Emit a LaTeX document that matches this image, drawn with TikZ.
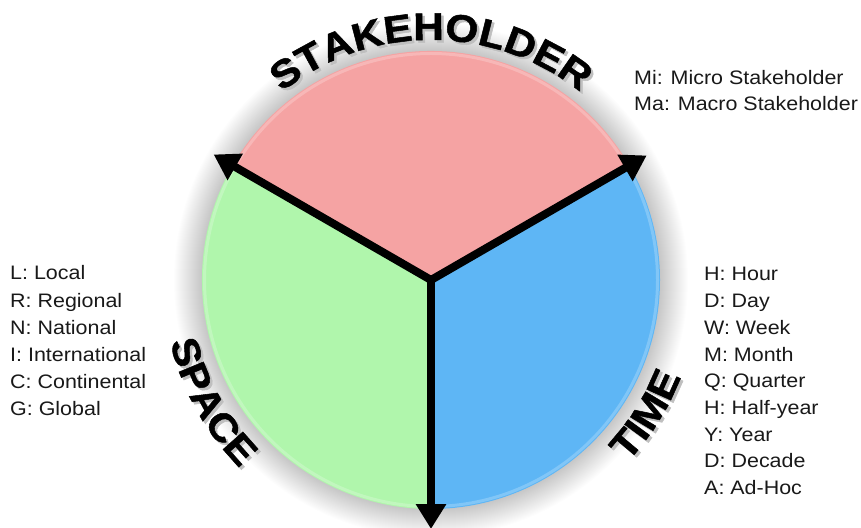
\documentclass[tikz,border=0pt]{standalone}
\usepackage{fontspec}
\setmainfont{Liberation Sans}
\newfontfamily\titlefam[FakeStretch=1.1,FakeBold=1.3]{Liberation Sans}
\newfontfamily\legendfam[FakeStretch=1.1]{Liberation Sans}
\usetikzlibrary{arrows.meta,decorations.text}

\definecolor{pinkfill}{RGB}{245,163,163}
\definecolor{greenfill}{RGB}{176,246,172}
\definecolor{bluefill}{RGB}{94,182,245}
\definecolor{legendtext}{RGB}{25,25,25}

\newcommand{\titlestyle}{\titlefam\bfseries\fontsize{38.5}{40}\selectfont}
\newcommand{\legendstyle}{\legendfam\fontsize{19.5}{24}\selectfont}

\begin{document}
\begin{tikzpicture}[x=1pt,y=1pt,
  legend/.style={font=\legendstyle, anchor=base west, inner sep=0pt, text=legendtext},
  axisarrow/.style={line width=8pt, draw=black, -{Triangle[width=29pt,length=25pt]}},
  arclabel/.style={decorate, decoration={text along path, text align=center, text={|\titlestyle|#1}}},
  arcshadow/.style={decorate, decoration={text along path, text align=center, text={|\titlestyle\color{black!25}|#1}}},
]
\useasboundingbox (0,0) rectangle (861,527);

\begin{scope}[shift={(431,247)}]
  \coordinate (c) at (0,0);
  % soft halo around the disc
  \foreach \k in {1,...,28}
    \fill[black, opacity=0.008] (0,0) circle[radius=229+\k];

  % the three sectors
  \fill[pinkfill]  (0,0) -- (30:229)  arc[start angle=30,  end angle=150, radius=229] -- cycle;
  \fill[greenfill] (0,0) -- (150:229) arc[start angle=150, end angle=270, radius=229] -- cycle;
  \fill[bluefill]  (0,0) -- (270:229) arc[start angle=270, end angle=390, radius=229] -- cycle;
  % faint rim highlight
  \draw[white, opacity=0.22, line width=3pt] (0,0) circle[radius=226.5];

  % axis arrows
  \coordinate (tipStake) at (150:251);
  \coordinate (tipTime)  at (30:249);
  \coordinate (tipSpace) at (270:249);
  \fill[black] (c) circle[radius=4];
  \draw[axisarrow] (c) -- (tipStake);
  \draw[axisarrow] (c) -- (tipTime);
  \draw[axisarrow] (c) -- (tipSpace);

  % curved titles with a light shadow
  \path[arcshadow=STAKEHOLDER, xshift=2.5pt, yshift=-2.5pt] (172:240) arc[start angle=172, end angle=8, radius=240];
  \path[arclabel=STAKEHOLDER] (172:240) arc[start angle=172, end angle=8, radius=240];

  \path[arcshadow=SPACE, xshift=2.5pt, yshift=-2.5pt] (179:268) arc[start angle=179, end angle=239, radius=268];
  \path[arclabel=SPACE] (179:268) arc[start angle=179, end angle=239, radius=268];

  \path[arcshadow=TIME, xshift=2.5pt, yshift=-2.5pt] (298:268) arc[start angle=298, end angle=358, radius=268];
  \path[arclabel=TIME] (298:268) arc[start angle=298, end angle=358, radius=268];
\end{scope}

% legends
\foreach \t [count=\i from 0] in {Mi: Micro Stakeholder, Ma: Macro Stakeholder}
  \node[legend] (stake\i) at (634, 442-26*\i) {\t};

\foreach \t [count=\i from 0] in {L: Local, R: Regional, N: National, I: International, C: Continental, G: Global}
  \node[legend] (space\i) at (10, 247-27.2*\i) {\t};

\foreach \t [count=\i from 0] in {H: Hour, D: Day, W: Week, M: Month, Q: Quarter, H: Half-year, Y: Year, D: Decade, A: Ad-Hoc}
  \node[legend] (time\i) at (704, 246-26.7*\i) {\t};
\end{tikzpicture}
\end{document}
